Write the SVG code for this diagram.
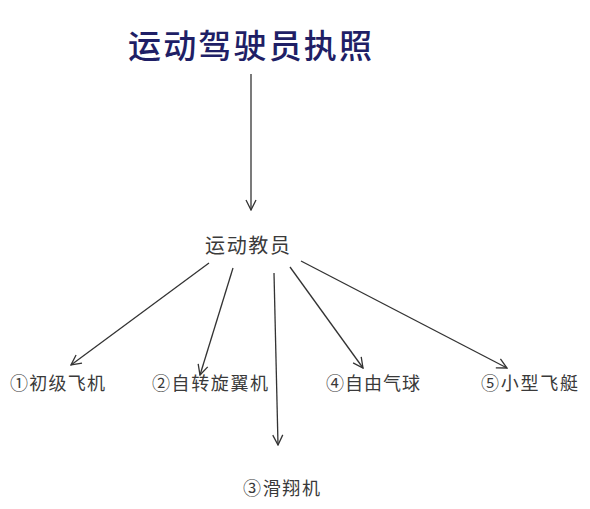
<svg xmlns="http://www.w3.org/2000/svg" width="590" height="509" viewBox="0 0 590 509">
<style>
.t{font-family:"Noto Sans CJK SC","Noto Sans",sans-serif;fill:#3a3a3a;font-size:18px}
.title{font-family:"Noto Sans CJK SC","Noto Sans",sans-serif;fill:#1f1f66;font-size:33px;font-weight:500}
.c line{stroke:#333;stroke-width:1.3;fill:none;marker-end:url(#a)}
</style>
<defs>
<marker id="a" viewBox="0 0 12 12" refX="11" refY="6" markerWidth="12" markerHeight="12" markerUnits="userSpaceOnUse" orient="auto">
<path d="M1,1 L11,6 L1,11" fill="none" stroke="#333" stroke-width="1.3"/>
</marker>
</defs>
<rect width="590" height="509" fill="#fff"/>
<g id="title"><text class="title" x="128" y="58" textLength="244" lengthAdjust="spacing">运动驾驶员执照</text></g>
<g id="instructor"><text class="t" x="205" y="253" style="font-size:20px" textLength="85" lengthAdjust="spacing">运动教员</text></g>
<g id="n1"><text class="t" x="10" y="390" textLength="95" lengthAdjust="spacing">①初级飞机</text></g>
<g id="n2"><text class="t" x="152" y="390" textLength="116" lengthAdjust="spacing">②自转旋翼机</text></g>
<g id="n3"><text class="t" x="243" y="495" textLength="77" lengthAdjust="spacing">③滑翔机</text></g>
<g id="n4"><text class="t" x="326" y="390" textLength="94" lengthAdjust="spacing">④自由气球</text></g>
<g id="n5"><text class="t" x="481" y="390" textLength="97" lengthAdjust="spacing">⑤小型飞艇</text></g>
<g id="connectors" class="c">
<line x1="251" y1="74" x2="251" y2="210"/>
<line x1="209" y1="263" x2="71" y2="365"/>
<line x1="233" y1="268" x2="200" y2="375"/>
<line x1="274" y1="273" x2="278" y2="445"/>
<line x1="290" y1="267" x2="363" y2="368"/>
<line x1="301" y1="261" x2="507" y2="368"/>
</g>
</svg>
